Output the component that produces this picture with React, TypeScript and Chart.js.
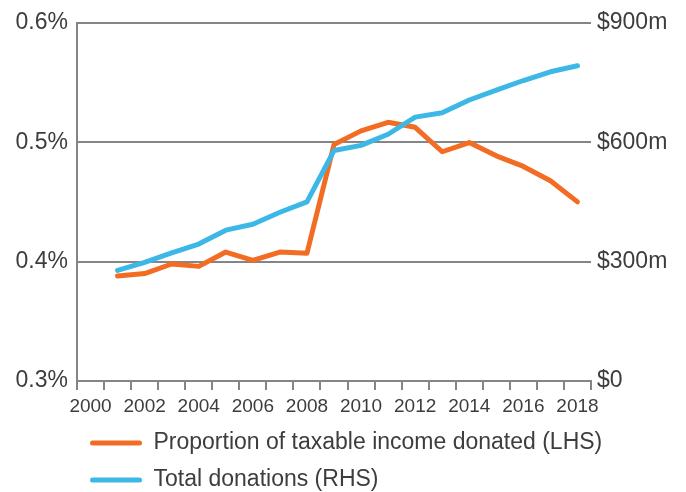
import React, { useEffect, useRef } from "react";
import { Chart, registerables } from "chart.js";

Chart.register(...registerables);

const years: string[] = [
  "2000", "2001", "2002", "2003", "2004", "2005", "2006", "2007", "2008", "2009",
  "2010", "2011", "2012", "2013", "2014", "2015", "2016", "2017", "2018",
];

// Proportion of taxable income donated (%), left axis
const proportionDonated: (number | null)[] = [
  null, 0.388, 0.390, 0.398, 0.396, 0.408, 0.401, 0.408, 0.407, 0.498,
  0.5095, 0.5167, 0.5125, 0.492, 0.4997, 0.4886, 0.4797, 0.4677, 0.450,
];

// Total donations ($m), right axis
const totalDonations: (number | null)[] = [
  null, 278, 298, 322, 344, 379, 394, 424, 450, 579,
  592, 620, 663, 674, 706, 731, 755, 777, 792,
];

const leftTicks: number[] = [0.3, 0.4, 0.5, 0.6];
const rightTicks: number[] = [0, 300, 600, 900];

const seriesNames: string[] = [
  "Proportion of taxable income donated (LHS)",
  "Total donations (RHS)",
];

const ORANGE = "#F26D23";
const BLUE = "#3DB8E6";
const GRID = "#858585";
const TEXT = "#3d3d3d";
const FONT = "'Liberation Sans', Arial, sans-serif";

export default function App() {
  const ref = useRef<HTMLCanvasElement | null>(null);

  useEffect(() => {
    document.body.style.margin = "0";
    const canvas = ref.current;
    if (!canvas) return;

    const layoutTweak = {
      id: "layoutTweak",
      afterLayout(chart: any) {
        if (chart.legend) {
          chart.legend.left = 76;
          chart.legend.top = 417.5;
        }
        const x = chart.scales && chart.scales.x;
        if (x) {
          // widen the label clip box of the x axis so its labels are not cut
          x.bottom = x.top + 40;
        }
      },
    };

    const chart = new Chart(canvas, {
      type: "line",
      data: {
        labels: years,
        datasets: [
          {
            label: seriesNames[0],
            data: proportionDonated,
            yAxisID: "y",
            borderColor: ORANGE,
            backgroundColor: ORANGE,
            borderWidth: 5,
            pointRadius: 0,
            tension: 0,
            borderCapStyle: "round",
            borderJoinStyle: "round",
            order: 1,
          },
          {
            label: seriesNames[1],
            data: totalDonations,
            yAxisID: "y1",
            borderColor: BLUE,
            backgroundColor: BLUE,
            borderWidth: 5,
            pointRadius: 0,
            tension: 0,
            borderCapStyle: "round",
            borderJoinStyle: "round",
            order: 0,
          },
        ],
      },
      options: {
        animation: false,
        responsive: false,
        devicePixelRatio: 1,
        layout: { padding: { top: 22, left: 0, right: 0, bottom: 0 } },
        plugins: {
          tooltip: { enabled: false },
          legend: {
            position: "bottom",
            align: "start",
            labels: {
              font: { family: FONT, size: 23 },
              color: TEXT,
              padding: 14,
              boxWidth: 52,
              boxHeight: 5,
              generateLabels: () => [
                {
                  text: seriesNames[0],
                  fillStyle: ORANGE,
                  strokeStyle: ORANGE,
                  lineWidth: 0,
                  borderRadius: 2.5,
                  datasetIndex: 0,
                  fontColor: TEXT,
                },
                {
                  text: seriesNames[1],
                  fillStyle: BLUE,
                  strokeStyle: BLUE,
                  lineWidth: 0,
                  borderRadius: 2.5,
                  datasetIndex: 1,
                  fontColor: TEXT,
                },
              ],
            },
          },
        },
        scales: {
          x: {
            type: "category",
            offset: true,
            grid: {
              display: true,
              drawOnChartArea: false,
              offset: true,
              drawTicks: true,
              tickLength: 9,
              color: GRID,
              lineWidth: 2,
            },
            border: { display: true, color: GRID, width: 2 },
            ticks: {
              autoSkip: false,
              maxRotation: 0,
              minRotation: 0,
              padding: 5,
              color: TEXT,
              font: { family: FONT, size: 19 },
              callback: (_v: any, i: number) => (i % 2 === 0 ? years[i] : ""),
            },
            afterFit: (s: any) => {
              s.height = 27;
            },
          },
          y: {
            position: "left",
            min: leftTicks[0],
            max: leftTicks[leftTicks.length - 1],
            afterBuildTicks: (s: any) => {
              s.ticks = leftTicks.map((v) => ({ value: v }));
            },
            grid: { color: GRID, lineWidth: 2, drawTicks: false },
            border: { display: true, color: GRID, width: 2 },
            ticks: {
              padding: 9,
              color: TEXT,
              font: { family: FONT, size: 23 },
              callback: (v: any) => Number(v).toFixed(1) + "%",
            },
            afterFit: (s: any) => {
              s.width = 77;
            },
          },
          y1: {
            position: "right",
            min: rightTicks[0],
            max: rightTicks[rightTicks.length - 1],
            afterBuildTicks: (s: any) => {
              s.ticks = rightTicks.map((v) => ({ value: v }));
            },
            grid: { drawOnChartArea: false, drawTicks: false },
            border: { display: false },
            ticks: {
              padding: 6,
              color: TEXT,
              font: { family: FONT, size: 23 },
              callback: (v: any) => (Number(v) === 0 ? "$0" : "$" + v + "m"),
            },
            afterFit: (s: any) => {
              s.width = 95;
            },
          },
        },
      },
      plugins: [layoutTweak],
    });

    return () => chart.destroy();
  }, []);

  return (
    <canvas
      ref={ref}
      width={686}
      height={492}
      style={{ display: "block", width: 686, height: 492 }}
    />
  );
}
